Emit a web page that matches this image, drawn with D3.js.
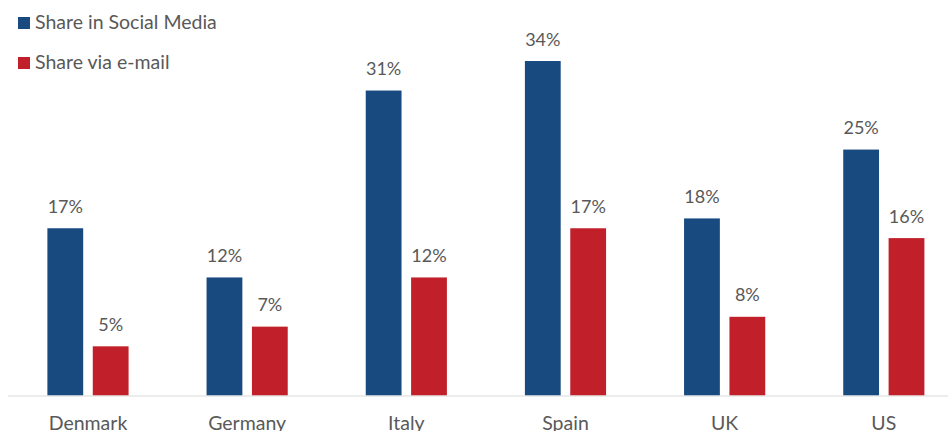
<!DOCTYPE html>
<html><head><meta charset="utf-8">
<script src="https://cdn.jsdelivr.net/npm/d3@7"></script>
<style>html,body{margin:0;padding:0;background:#fff;overflow:hidden}</style>
</head><body>
<svg id="c" width="948" height="431"></svg>
<script>
const categories = ["Denmark","Germany","Italy","Spain","UK","US"];
const seriesNames = ["Share in Social Media","Share via e-mail"];
const socialValues = [17,12,31,34,18,25];
const emailValues = [5,7,12,17,8,16];
const colors = ["#184A80","#C1202A"];

const svg = d3.select("#c");
const font = "Lato, 'Open Sans', sans-serif";
const textColor = "#595959";

const x0 = d3.scaleBand().domain(categories).range([8.4, 963.4]).paddingInner(0.49).paddingOuter(0.245);
const x1 = d3.scaleBand().domain([0,1]).range([0, x0.bandwidth()]).paddingInner(0.211).paddingOuter(0);
const y = d3.scaleLinear().domain([0,40]).range([395.5, 2]);

const data = [];
categories.forEach((c,i)=>{
  data.push({c, s:0, v:socialValues[i]});
  data.push({c, s:1, v:emailValues[i]});
});

svg.selectAll("rect.bar").data(data).enter().append("rect")
  .attr("class","bar")
  .attr("x", d=>x0(d.c)+x1(d.s))
  .attr("width", x1.bandwidth())
  .attr("y", d=>y(d.v))
  .attr("height", d=>y(0)-y(d.v))
  .attr("fill", d=>colors[d.s]);

svg.selectAll("text.lbl").data(data).enter().append("text")
  .attr("class","lbl")
  .attr("x", d=>x0(d.c)+x1(d.s)+x1.bandwidth()/2)
  .attr("y", d=>y(d.v)-15.5)
  .attr("text-anchor","middle")
  .attr("font-family",font).attr("font-size",18).attr("fill",textColor)
  .text(d=>d.v+"%");

// axis
const xAxis = d3.axisBottom(x0).tickSize(0).tickPadding(21);
const ax = svg.append("g").attr("transform",`translate(0,${y(0)})`).call(xAxis);
ax.select(".domain").attr("stroke","#d9d9d9").attr("stroke-width",1.2).attr("d","M8,0.5H948");
ax.selectAll("text").attr("font-family",font).attr("font-size",19.5).attr("fill",textColor).attr("dy","0.71em");

// legend
const leg = svg.append("g");
seriesNames.forEach((n,i)=>{
  const g = leg.append("g").attr("transform",`translate(18,${17+i*40})`);
  g.append("rect").attr("width",12).attr("height",12).attr("fill",colors[i]);
  g.append("text").attr("x",17).attr("y",12).attr("font-family",font).attr("font-size",19.5).attr("fill",textColor).text(n);
});
</script>
</body></html>
